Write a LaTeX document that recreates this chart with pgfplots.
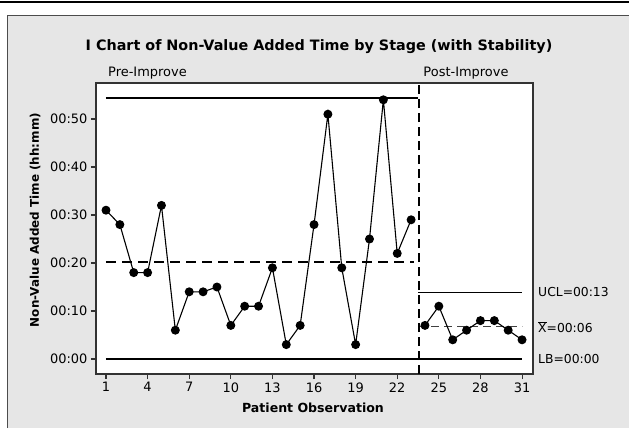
\documentclass[border=0pt]{standalone}
\usepackage{pgfplots}
\pgfplotsset{compat=1.18}
\usepackage{fontspec}
\setmainfont{DejaVu Sans}
\definecolor{panel}{RGB}{230,230,230}

\begin{document}
\begin{tikzpicture}[x=1bp,y=1bp]
\path[use as bounding box] (-96,-54) rectangle (533,374);
% page rule and grey panel
\draw[black, line width=1.5bp] (-96,372) -- (533,372);
\fill[panel] (-88,-54) rectangle (533,359);
\draw[black!70, line width=1bp] (-88,-54) -- (-88,359) -- (533,359);

\begin{axis}[
    scale only axis,
    width=437bp, height=291bp,
    xmin=0.279, xmax=31.79,
    ymin=-3.125, ymax=57.5,
    xtick={1,4,...,31},
    ytick={0,10,20,30,40,50},
    yticklabels={00:00,00:10,00:20,00:30,00:40,00:50},
    tick align=outside,
    xtick pos=bottom, ytick pos=left,
    major tick length=5bp,
    axis line style={draw=black!80, line width=1.3bp},
    tick style={black!80, line width=1.1bp},
    ticklabel style={font=\fontsize{13}{15}\selectfont},
    /pgf/number format/assume math mode=true,
    axis background/.style={fill=white},
    clip=false,
]

% stage limits: pre-improve
\addplot[black, line width=1.5bp] coordinates {(1,54.4) (23.5,54.4)};
\addplot[black, line width=1.5bp, dash pattern=on 10bp off 6bp] coordinates {(1,20.2) (23.2,20.2)};
% lower bound (both stages)
\addplot[black, line width=1.5bp] coordinates {(1,0) (31,0)};
% stage limits: post-improve
\addplot[black, line width=1.5bp] coordinates {(23.5,13.9) (31,13.9)};
\addplot[black!75, line width=1.1bp, dash pattern=on 8bp off 5bp] coordinates {(23.5,6.75) (31,6.75)};
% stage divider
\addplot[black, line width=1.6bp, dash pattern=on 9bp off 5bp] coordinates {(23.55,-3.125) (23.55,57.5)};

% observations (minutes)
\addplot[black, line width=1.1bp, mark=*, mark size=3.9bp] coordinates {
    (1,31) (2,28) (3,18) (4,18) (5,32) (6,6) (7,14) (8,14) (9,15) (10,7)
    (11,11) (12,11) (13,19) (14,3) (15,7) (16,28) (17,51) (18,19) (19,3)
    (20,25) (21,54) (22,22) (23,29)
};
\addplot[black, line width=1.1bp, mark=*, mark size=3.9bp] coordinates {
    (24,7) (25,11) (26,4) (27,6) (28,8) (29,8) (30,6) (31,4)
};
\end{axis}

% texts
\node[font=\bfseries\fontsize{14.4}{17}\selectfont] at (223,327) {I Chart of Non-Value Added Time by Stage (with Stability)};
\node[anchor=west, font=\fontsize{13}{15}\selectfont, inner sep=0pt] at (12,301) {Pre-Improve};
\node[font=\fontsize{13}{15}\selectfont] at (370,301) {Post-Improve};
\node[font=\bfseries\fontsize{12.6}{15}\selectfont] at (217,-34) {Patient Observation};
\node[rotate=90, font=\bfseries\fontsize{12}{14}\selectfont] at (-61,154) {Non-Value Added Time (hh:mm)};
\node[anchor=west, inner sep=0pt, font=\fontsize{12.4}{15}\selectfont] at (442,82) {UCL=00:13};
\node[anchor=west, inner sep=0pt, font=\fontsize{12.4}{15}\selectfont] at (442,47) {$\overline{\mbox{X}}$=00:06};
\node[anchor=west, inner sep=0pt, font=\fontsize{12.4}{15}\selectfont] at (442,15) {LB=00:00};
\end{tikzpicture}
\end{document}
